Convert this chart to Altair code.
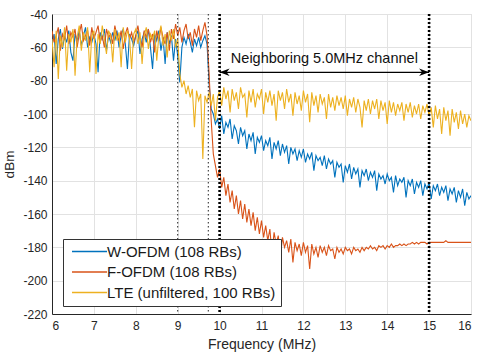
import altair as alt
import pandas as pd

# Frequency grid (MHz), 0.05 MHz spacing from 6 to 16
freq = [round(6 + 0.05 * i, 2) for i in range(201)]

# W-OFDM (108 RBs), dBm
wofdm = [
    -58, -52, -70, -55, -49, -61, -53, -57, -50, -63,
    -68, -52, -56, -50, -59, -53, -48, -60, -54, -57,
    -52, -58, -75, -51, -55, -49, -62, -53, -57, -51,
    -56, -50, -60, -53, -49, -58, -73, -52, -55, -59,
    -53, -50, -64, -55, -51, -57, -49, -60, -73, -52,
    -56, -50, -62, -54, -70, -51, -58, -53, -68, -55,
    -65, -81, -60, -54, -58, -52, -57, -63, -55, -59,
    -54, -60, -56, -53, -58, -82, -97, -100, -106, -103,
    -109, -101, -112, -105, -108, -103, -115, -107, -110, -118,
    -108, -113, -110, -121, -112, -116, -111, -124, -114, -117,
    -113, -122, -116, -119, -114, -127, -117, -121, -116, -125,
    -118, -123, -119, -130, -120, -124, -121, -128, -122, -126,
    -121, -129, -124, -127, -123, -134, -125, -128, -126, -131,
    -125, -133, -127, -130, -128, -138, -129, -132, -130, -141,
    -131, -135, -130, -139, -132, -136, -133, -144, -134, -137,
    -133, -140, -135, -138, -134, -146, -136, -139, -137, -142,
    -136, -140, -138, -147, -137, -143, -139, -141, -138, -150,
    -140, -143, -139, -148, -141, -144, -140, -149, -142, -145,
    -141, -151, -143, -146, -142, -149, -144, -147, -143, -152,
    -145, -148, -144, -153, -146, -150, -145, -155, -147, -151,
    -149,
]

# F-OFDM (108 RBs), dBm
fofdm = [
    -50, -57, -53, -48, -62, -52, -55, -47, -58, -51,
    -54, -49, -60, -52, -46, -56, -53, -50, -59, -48,
    -55, -51, -47, -57, -53, -60, -49, -54, -52, -58,
    -47, -53, -56, -50, -61, -52, -48, -55, -51, -57,
    -53, -47, -55, -60, -50, -54, -49, -57, -52, -63,
    -50, -56, -48, -54, -58, -51, -62, -49, -55, -46,
    -53, -48, -57, -50, -46, -55, -51, -59, -49, -54,
    -47, -56, -50, -45, -53, -76, -104, -124, -131, -138,
    -133, -144, -138, -149, -142, -153, -146, -157, -149, -160,
    -152, -163, -154, -165, -157, -167, -159, -170, -162, -172,
    -164, -174, -167, -176, -169, -184, -171, -178, -173, -186,
    -174, -180, -176, -183, -175, -189, -177, -182, -178, -185,
    -177, -183, -179, -193, -178, -184, -180, -186, -179, -183,
    -180, -185, -179, -182, -181, -187, -180, -183, -181, -184,
    -180, -182, -181, -184, -180, -182, -181, -183, -180, -182,
    -180, -181, -179, -181, -180, -182, -179, -180, -179, -181,
    -179, -180, -178, -180, -179, -179, -178, -179, -178, -179,
    -178, -178, -177, -178, -177, -178, -177, -177, -177, -178,
    -177, -177, -177, -177, -177, -177, -177, -177, -176, -177,
    -177, -177, -177, -177, -177, -177, -177, -177, -177, -177,
    -177,
]

# LTE (unfiltered, 100 RBs), dBm
lte = [
    -55, -72, -50, -79, -53, -60, -48, -74, -52, -57,
    -49, -77, -54, -47, -62, -51, -56, -48, -75, -53,
    -50, -76, -52, -58, -47, -55, -64, -50, -53, -69,
    -49, -56, -51, -72, -48, -57, -50, -54, -73, -52,
    -49, -58, -51, -70, -53, -48, -61, -52, -55, -50,
    -68, -53, -47, -59, -52, -66, -50, -56, -49, -60,
    -55, -76, -84, -80, -88, -83, -90, -85, -108, -86,
    -92, -88, -127, -89, -93, -87, -95, -88, -104, -90,
    -86, -95, -84, -91, -86, -99, -85, -92, -87, -97,
    -84, -90, -88, -102, -86, -93, -85, -96, -88, -91,
    -85, -100, -87, -93, -86, -95, -88, -104, -86, -92,
    -87, -97, -85, -93, -88, -101, -87, -94, -89, -98,
    -86, -93, -88, -105, -87, -95, -89, -99, -88, -94,
    -90, -103, -88, -96, -90, -98, -89, -95, -90, -97,
    -89, -101, -91, -96, -90, -99, -91, -96, -108, -92,
    -98, -91, -100, -92, -97, -91, -103, -92, -98, -93,
    -106, -92, -99, -93, -101, -94, -98, -93, -104, -94,
    -99, -93, -102, -95, -100, -94, -103, -95, -99, -94,
    -101, -96, -108, -95, -103, -97, -112, -96, -104, -98,
    -113, -97, -105, -99, -109, -98, -106, -100, -108, -101,
    -104,
]

series_names = ["W-OFDM (108 RBs)", "F-OFDM (108 RBs)", "LTE (unfiltered, 100 RBs)"]
series_colors = ["#0072BD", "#D95319", "#EDB120"]
x_ticks = list(range(6, 17))
y_ticks = list(range(-220, -39, 20))

thin_markers = [9.0, 9.73]
thick_markers = [10.0, 15.0]
arrow_x = [10.0, 15.0]
arrow_level = -75
annotation = "Neighboring 5.0MHz channel"
annotation_x = 12.5
annotation_y = -67

FONT = "Liberation Sans"

rows = []
for name, vals in zip(series_names, [wofdm, fofdm, lte]):
    for f, v in zip(freq, vals):
        rows.append({"freq": f, "dbm": v, "series": name})
df = pd.DataFrame(rows)

xs = alt.Scale(domain=[6, 16], nice=False, zero=False)
ys = alt.Scale(domain=[-220, -40], nice=False, zero=False)

x_axis = alt.Axis(values=x_ticks, title="Frequency (MHz)", labelPadding=6, titlePadding=6,
                  labelOverlap=False, titleFontSize=14)
y_axis = alt.Axis(values=y_ticks, title="dBm", labelExpr="'' + datum.value",
                  labelOverlap=False, labelFlush=False, labelPadding=5, titlePadding=6,
                  titleFontSize=13.5)

x_enc = alt.X("freq:Q", scale=xs, axis=x_axis)
y_enc = alt.Y("dbm:Q", scale=ys, axis=y_axis)
color_enc = alt.Color(
    "series:N",
    scale=alt.Scale(domain=series_names, range=series_colors),
    legend=alt.Legend(
        title=None,
        orient="none",
        legendX=11,
        legendY=225,
        symbolType="M-1,0H9",
        symbolSize=49,
        symbolStrokeWidth=1.3,
        labelOffset=24,
        labelFontSize=15,
        labelFont=FONT,
        labelColor="#1a1a1a",
        labelLimit=400,
        rowPadding=4.5,
        padding=5,
        strokeColor="#333333",
        fillColor="white",
    ),
)

layers = []
for name in series_names:
    layers.append(
        alt.Chart(df)
        .transform_filter(alt.datum.series == name)
        .mark_line(strokeWidth=1.1, clip=True)
        .encode(x=x_enc, y=y_enc, color=color_enc, order="freq:Q")
    )

ax_x = alt.X("x:Q", scale=xs, axis=x_axis)
ax_y = alt.Y("y:Q", scale=ys, axis=y_axis)

thin = alt.Chart(pd.DataFrame({"x": thin_markers})).mark_rule(
    color="#222222", strokeWidth=1, strokeDash=[1.5, 2.5]
).encode(x=ax_x)

thick = alt.Chart(pd.DataFrame({"x": thick_markers})).mark_rule(
    color="black", strokeWidth=2.6, strokeDash=[2, 2]
).encode(x=ax_x)

arrow_df = pd.DataFrame({"x": [arrow_x[0]], "x2": [arrow_x[1]], "y": [arrow_level]})
arrow_line = alt.Chart(arrow_df).mark_rule(color="black", strokeWidth=1.2).encode(
    x=ax_x, x2="x2:Q", y=ax_y
)
head_r = alt.Chart(pd.DataFrame({"x": [arrow_x[1]], "y": [arrow_level]})).mark_point(
    shape="M0,0L-2,-0.75L-1.4,0L-2,0.75Z", size=100, filled=True, color="black", opacity=1
).encode(x=ax_x, y=ax_y)
head_l = alt.Chart(pd.DataFrame({"x": [arrow_x[0]], "y": [arrow_level]})).mark_point(
    shape="M0,0L2,-0.75L1.4,0L2,0.75Z", size=100, filled=True, color="black", opacity=1
).encode(x=ax_x, y=ax_y)

label = alt.Chart(pd.DataFrame({"x": [annotation_x], "y": [annotation_y], "t": [annotation]})).mark_text(
    font=FONT, fontSize=14.5, color="#111111", align="center", baseline="middle"
).encode(x=ax_x, y=ax_y, text="t:N")

chart = (
    alt.layer(*layers, thin, thick, arrow_line, head_r, head_l, label)
    .properties(
        width=419,
        height=300,
        autosize=alt.AutoSizeParams(type="none"),
        padding={"left": 52, "top": 14, "right": 14, "bottom": 43},
    )
    .configure_axis(
        domainColor="#262626",
        gridColor="#e2e2e2",
        ticks=False,
        labelOverlap=False,
        labelFont=FONT,
        labelFontSize=12,
        labelColor="#262626",
        titleFont=FONT,
        titleFontWeight="normal",
        titleColor="#262626",
    )
    .configure_view(stroke="#d6d6d6")
)

chart.save("out.html", embed_options={"renderer": "svg", "actions": False})
